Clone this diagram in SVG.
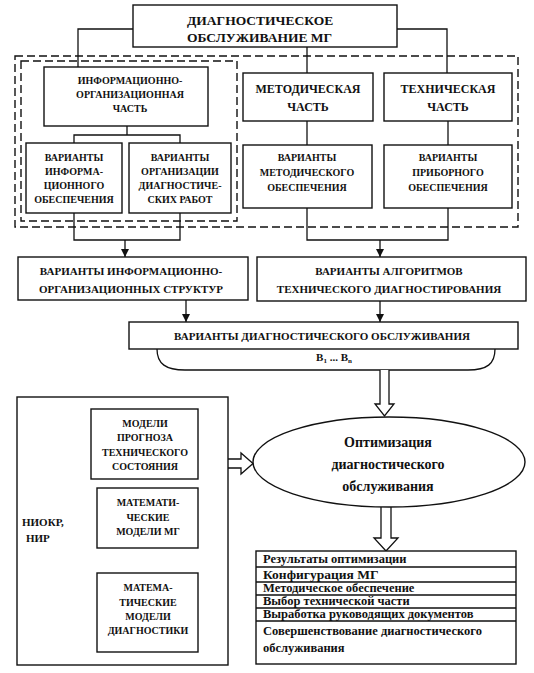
<svg xmlns="http://www.w3.org/2000/svg" width="534" height="673" viewBox="0 0 534 673">
<style>
.box{fill:#fff;stroke:#111;stroke-width:1.4}
.dash{fill:none;stroke:#111;stroke-width:1.4;stroke-dasharray:8 4}
.ln{fill:none;stroke:#111;stroke-width:1.3}
.hol{fill:#fff;stroke:#111;stroke-width:1.3;stroke-linejoin:miter}
.t{font-family:"Liberation Serif","Times New Roman","DejaVu Serif",serif;font-weight:bold;fill:#111;text-anchor:middle}
.s10{font-size:10px}
.s11{font-size:11px}
.s12{font-size:12px}
.s14{font-size:14px}
.r{font-size:12.5px;text-anchor:start}
.l{text-anchor:start}
</style>
<defs>
<marker id="ah" viewBox="0 0 10 10" refX="10" refY="5" markerWidth="8" markerHeight="8" markerUnits="userSpaceOnUse" orient="auto"><path d="M0,0 L10,5 L0,10 z" fill="#111"/></marker>
</defs>
<rect width="534" height="673" fill="#fff"/>

<g id="groups">
<rect class="dash" x="15" y="56" width="503" height="171"/>
<rect class="dash" x="21" y="61" width="216" height="160"/>
</g>

<g id="connectors">
<path class="ln" d="M133,29 H78 V67"/>
<path class="ln" d="M307,47 V73"/>
<path class="ln" d="M397,29 H447 V73"/>
<path class="ln" d="M127,126 V135 M74,143 V135 H180 V143"/>
<path class="ln" d="M307,121 V145"/>
<path class="ln" d="M448,121 V145"/>
<path class="ln" d="M74,213 V240 H180 V213"/>
<path class="ln" d="M307,208 V240 H448 V208"/>
<path class="ln" d="M125,240 V257" marker-end="url(#ah)"/>
<path class="ln" d="M380,240 V257" marker-end="url(#ah)"/>
<path class="ln" d="M186,300 V322" marker-end="url(#ah)"/>
<path class="ln" d="M380,301 V322" marker-end="url(#ah)"/>
<path class="ln" d="M157,349 C157,364 166,370 185,370 H468 C487,370 495,364 495,349"/>
<path class="hol" d="M380,370 V404 H375 L384.5,416 L394,404 H389 V370"/>
<path class="ln" d="M91,440 H73 V637 H97"/>
<path class="ln" d="M198,438 H211 V631 H198"/>
<path class="hol" d="M211,459 H241 V453 L253,463.5 L241,474 V468 H211"/>
<path class="hol" d="M381,507 V538 H374 L386,551 L398,538 H391 V507"/>
</g>

<g id="n-top">
<rect class="box" x="133" y="5" width="264" height="42"/>
<text class="t l" x="187" y="25" style="font-size:13.5px">ДИАГНОСТИЧЕСКОЕ</text>
<text class="t l" x="187" y="42" style="font-size:13.5px">ОБСЛУЖИВАНИЕ МГ</text>
</g>

<g id="n-info">
<rect class="box" x="44" y="67" width="164" height="59"/>
<text class="t s10" x="130" y="84">ИНФОРМАЦИОННО-</text>
<text class="t s10" x="130" y="98">ОРГАНИЗАЦИОННАЯ</text>
<text class="t s10" x="130" y="112">ЧАСТЬ</text>
</g>

<g id="n-meth">
<rect class="box" x="243" y="73" width="130" height="48"/>
<text class="t s12" x="308" y="93">МЕТОДИЧЕСКАЯ</text>
<text class="t s12" x="308" y="111">ЧАСТЬ</text>
</g>

<g id="n-tech">
<rect class="box" x="384" y="73" width="128" height="48"/>
<text class="t s12" x="448" y="93">ТЕХНИЧЕСКАЯ</text>
<text class="t s12" x="448" y="111">ЧАСТЬ</text>
</g>

<g id="n-sub1">
<rect class="box" x="26" y="143" width="96" height="70"/>
<text class="t s10" x="74" y="161">ВАРИАНТЫ</text>
<text class="t s10" x="74" y="175">ИНФОРМА-</text>
<text class="t s10" x="74" y="189">ЦИОННОГО</text>
<text class="t s10" x="74" y="203">ОБЕСПЕЧЕНИЯ</text>
</g>

<g id="n-sub2">
<rect class="box" x="129" y="143" width="102" height="70"/>
<text class="t s10" x="180" y="161">ВАРИАНТЫ</text>
<text class="t s10" x="180" y="175">ОРГАНИЗАЦИИ</text>
<text class="t s10" x="180" y="189">ДИАГНОСТИЧЕ-</text>
<text class="t s10" x="180" y="203">СКИХ РАБОТ</text>
</g>

<g id="n-sub3">
<rect class="box" x="243" y="145" width="129" height="63"/>
<text class="t s10" x="307" y="161">ВАРИАНТЫ</text>
<text class="t s10" x="307" y="176">МЕТОДИЧЕСКОГО</text>
<text class="t s10" x="307" y="191">ОБЕСПЕЧЕНИЯ</text>
</g>

<g id="n-sub4">
<rect class="box" x="384" y="145" width="128" height="63"/>
<text class="t s10" x="448" y="161">ВАРИАНТЫ</text>
<text class="t s10" x="448" y="176">ПРИБОРНОГО</text>
<text class="t s10" x="448" y="191">ОБЕСПЕЧЕНИЯ</text>
</g>

<g id="n-struct">
<rect class="box" x="18" y="257" width="230" height="43"/>
<text class="t s11" x="131" y="275">ВАРИАНТЫ  ИНФОРМАЦИОННО-</text>
<text class="t s11" x="131" y="293">ОРГАНИЗАЦИОННЫХ СТРУКТУР</text>
</g>

<g id="n-alg">
<rect class="box" x="257" y="257" width="269" height="44"/>
<text class="t s11" x="389" y="275">ВАРИАНТЫ АЛГОРИТМОВ</text>
<text class="t s11" x="389" y="293">ТЕХНИЧЕСКОГО ДИАГНОСТИРОВАНИЯ</text>
</g>

<g id="n-variants">
<rect class="box" x="129" y="322" width="389" height="27"/>
<text class="t s11" x="322" y="340">ВАРИАНТЫ ДИАГНОСТИЧЕСКОГО ОБСЛУЖИВАНИЯ</text>
<text class="t s11" x="334" y="361">В<tspan font-size="7" dy="2">1</tspan><tspan dy="-2"> ... В</tspan><tspan font-size="7" dy="2">n</tspan></text>
</g>

<g id="n-niokr">
<rect class="box" x="17" y="397" width="211" height="268"/>
<text class="t s11 l" x="22" y="526">НИОКР,</text>
<text class="t s11 l" x="26" y="542">НИР</text>
</g>

<g id="n-model1">
<rect class="box" x="91" y="409" width="107" height="70"/>
<text class="t s10" x="145" y="427">МОДЕЛИ</text>
<text class="t s10" x="145" y="441">ПРОГНОЗА</text>
<text class="t s10" x="145" y="456">ТЕХНИЧЕСКОГО</text>
<text class="t s10" x="145" y="470">СОСТОЯНИЯ</text>
</g>

<g id="n-model2">
<rect class="box" x="97" y="488" width="101" height="60"/>
<text class="t s10" x="148" y="506">МАТЕМАТИ-</text>
<text class="t s10" x="148" y="521">ЧЕСКИЕ</text>
<text class="t s10" x="148" y="535">МОДЕЛИ МГ</text>
</g>

<g id="n-model3">
<rect class="box" x="97" y="573" width="101" height="79"/>
<text class="t s10" x="148" y="591">МАТЕМА-</text>
<text class="t s10" x="148" y="606">ТИЧЕСКИЕ</text>
<text class="t s10" x="148" y="620">МОДЕЛИ</text>
<text class="t s10" x="148" y="634">ДИАГНОСТИКИ</text>
</g>

<g id="n-opt">
<ellipse class="box" cx="389" cy="462" rx="136" ry="45"/>
<text class="t s14" x="388" y="447">Оптимизация</text>
<text class="t s14" x="388" y="469">диагностического</text>
<text class="t s14" x="388" y="491">обслуживания</text>
</g>

<g id="n-results">
<rect class="box" x="256" y="551" width="260" height="113"/>
<path class="ln" d="M256,567 H516 M256,582 H516 M256,595 H516 M256,608 H516 M256,621 H516"/>
<text class="t r" x="263" y="563">Результаты оптимизации</text>
<text class="t l" x="263" y="579" style="font-size:13.5px">Конфигурация МГ</text>
<text class="t r" x="263" y="592">Методическое обеспечение</text>
<text class="t r" x="263" y="605">Выбор технической части</text>
<text class="t r" x="263" y="618">Выработка руководящих документов</text>
<text class="t r" x="263" y="635">Совершенствование диагностического</text>
<text class="t r" x="263" y="652">обслуживания</text>
</g>
</svg>
